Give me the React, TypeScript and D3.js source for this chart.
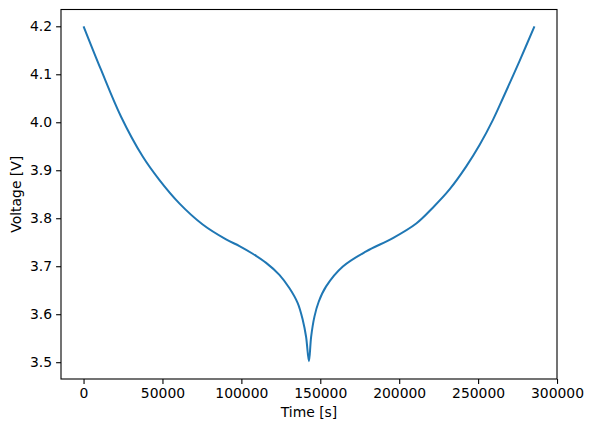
import * as d3 from "d3";
import { useEffect, useRef } from "react";

// time [s] and voltage [V]
const TIME = [
  0, 11000, 23700, 37400, 48000, 60700, 75500, 90300, 98800, 107200, 115700,
  124100, 130500, 135700, 138900, 141000, 142800, 144200, 146300, 149000,
  153700, 164300, 179100, 196000, 210800, 221300, 231900, 242500, 251000,
  259400, 265700, 276300, 285700,
];
const VOLTAGE = [
  4.2, 4.11, 4.012, 3.929, 3.88, 3.831, 3.787, 3.756, 3.742, 3.726, 3.707,
  3.682, 3.654, 3.623, 3.588, 3.553, 3.502, 3.553, 3.595, 3.626, 3.658,
  3.6994, 3.731, 3.7586, 3.789, 3.822, 3.86, 3.908, 3.953, 4.005, 4.05,
  4.128, 4.2,
];
const X_TICKS = [0, 50000, 100000, 150000, 200000, 250000, 300000];
const Y_TICKS = [3.5, 3.6, 3.7, 3.8, 3.9, 4.0, 4.1, 4.2];

const WIDTH = 593;
const HEIGHT = 432;

export default function App() {
  const ref = useRef<SVGSVGElement>(null);

  useEffect(() => {
    if (!ref.current) return;
    const svg = d3.select(ref.current);
    svg.selectAll("*").remove();

    const margin = { top: 9.5, right: 36, bottom: 53, left: 61 };
    const innerW = WIDTH - margin.left - margin.right;
    const innerH = HEIGHT - margin.top - margin.bottom;

    const tMax = d3.max(TIME) ?? 0;
    const x = d3
      .scaleLinear()
      .domain([-0.05 * tMax, 1.05 * tMax])
      .range([0, innerW]);
    const vMin = 3.5;
    const vMax = 4.2;
    const pad = (vMax - vMin) * 0.05;
    const y = d3
      .scaleLinear()
      .domain([vMin - pad, vMax + pad])
      .range([innerH, 0]);

    const g = svg.append("g").attr("transform", `translate(${margin.left},${margin.top})`);

    const data = TIME.map((t, i) => [t, VOLTAGE[i]] as [number, number]);
    const line = d3
      .line<[number, number]>()
      .x((d) => x(d[0]))
      .y((d) => y(d[1]))
      .curve(d3.curveCatmullRom.alpha(0.5));

    g.append("path")
      .datum(data)
      .attr("fill", "none")
      .attr("stroke", "#1f77b4")
      .attr("stroke-width", 2)
      .attr("stroke-linejoin", "round")
      .attr("d", line);

    const font = "DejaVu Sans, sans-serif";

    const xAxis = g
      .append("g")
      .attr("transform", `translate(0,${innerH})`)
      .call(d3.axisBottom(x).tickValues(X_TICKS).tickFormat((d) => String(d)).tickSize(4.9).tickPadding(4));
    const yAxis = g
      .append("g")
      .call(d3.axisLeft(y).tickValues(Y_TICKS).tickFormat(d3.format(".1f")).tickSize(4.9).tickPadding(4));

    [xAxis, yAxis].forEach((a) => {
      a.select(".domain").remove();
      a.selectAll("line").attr("stroke", "#000").attr("stroke-width", 1.1);
      a.selectAll("text")
        .attr("fill", "#000")
        .style("font-family", font)
        .style("font-size", "13.9px");
    });

    // frame
    g.append("rect")
      .attr("width", innerW)
      .attr("height", innerH)
      .attr("fill", "none")
      .attr("stroke", "#000")
      .attr("stroke-width", 1.1);

    g.append("text")
      .attr("x", innerW / 2)
      .attr("y", innerH + 38)
      .attr("text-anchor", "middle")
      .style("font-family", font)
      .style("font-size", "13.9px")
      .text("Time [s]");

    g.append("text")
      .attr("transform", `translate(${-40},${innerH / 2}) rotate(-90)`)
      .attr("text-anchor", "middle")
      .style("font-family", font)
      .style("font-size", "13.9px")
      .text("Voltage [V]");
  }, []);

  return (
    <svg
      ref={ref}
      width={WIDTH}
      height={HEIGHT}
      style={{ position: "absolute", left: 0, top: 0, background: "#fff" }}
    />
  );
}
